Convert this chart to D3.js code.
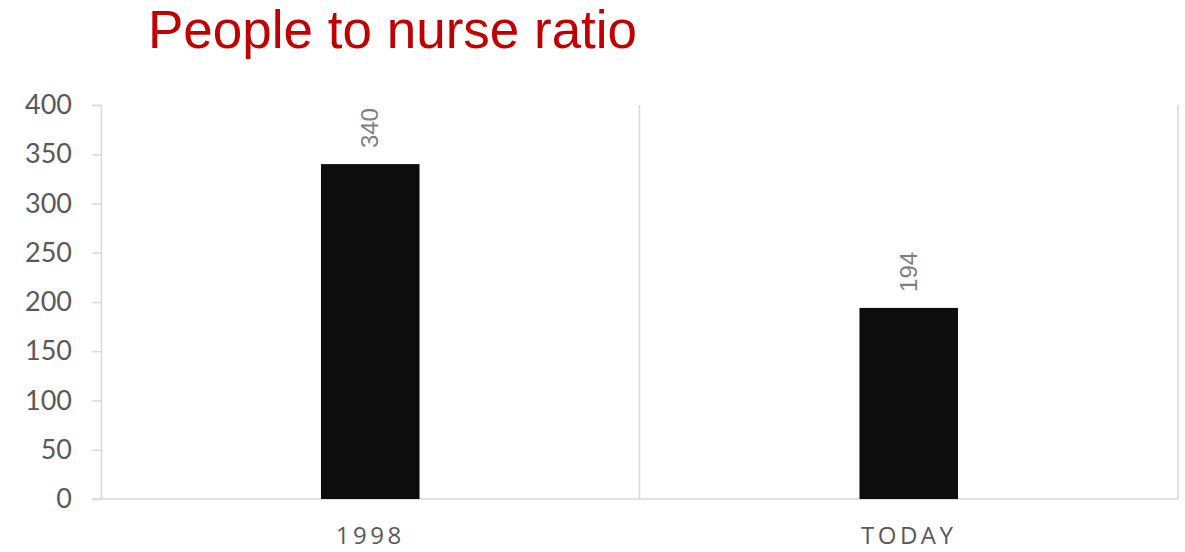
<!DOCTYPE html>
<html><head><meta charset="utf-8">
<script src="https://cdn.jsdelivr.net/npm/d3@7"></script>
<style>body{margin:0;background:#fff;}svg{display:block;}</style>
</head><body>
<script>
const categories = ["1998", "TODAY"];
const values = [340, 194];
const yTicks = [0, 50, 100, 150, 200, 250, 300, 350, 400];
const title = "People to nurse ratio";

const W = 1185, H = 552;
const m = {left: 101, right: 7, top: 105, bottom: 53};
const svg = d3.select("body").append("svg").attr("width", W).attr("height", H);

const x = d3.scaleBand().domain(categories).range([m.left, W - m.right]).paddingInner(0).paddingOuter(0);
const y = d3.scaleLinear().domain([0, 400]).range([H - m.bottom, m.top]);
const grid = "#d9d9d9";

// vertical category separators
const seps = x.domain().map(d => x(d) + x.bandwidth());
svg.selectAll(".sep").data(seps).enter().append("line")
  .attr("x1", d => d).attr("x2", d => d)
  .attr("y1", y(400)).attr("y2", y(0))
  .attr("stroke", grid).attr("stroke-width", 1.5);

// y axis
const yAxis = svg.append("g").attr("transform", `translate(${m.left},0)`)
  .call(d3.axisLeft(y).tickValues(yTicks).tickSize(9).tickPadding(20));
yAxis.select(".domain").attr("stroke", grid).attr("stroke-width", 1.5);
yAxis.selectAll(".tick line").attr("stroke", grid).attr("stroke-width", 1.5);
yAxis.selectAll("text").attr("fill", "#595959").style("font-family", "Lato, 'Open Sans', sans-serif").style("font-size", "27px");

// x axis
const xAxis = svg.append("g").attr("transform", `translate(0,${y(0)})`)
  .call(d3.axisBottom(x).tickSize(0).tickPadding(28));
xAxis.select(".domain").remove();
svg.append("line").attr("x1", m.left - 9).attr("x2", W - m.right)
  .attr("y1", y(0)).attr("y2", y(0)).attr("stroke", grid).attr("stroke-width", 1.5);
xAxis.selectAll("text").attr("fill", "#595959").attr("dy", "0.71em")
  .style("font-family", "'Open Sans', sans-serif").style("font-size", "24px").style("letter-spacing", "3.5px");

// bars
const bw = x.bandwidth() * 0.183;
svg.selectAll(".bar").data(values).enter().append("rect")
  .attr("x", (d, i) => x(categories[i]) + x.bandwidth() / 2 - bw / 2)
  .attr("width", bw)
  .attr("y", d => y(d))
  .attr("height", d => y(0) - y(d))
  .attr("fill", "#0d0d0d");

// data labels
svg.selectAll(".lbl").data(values).enter().append("text")
  .attr("transform", (d, i) => `translate(${x(categories[i]) + x.bandwidth() / 2 + 8},${y(d) - 16}) rotate(-90)`)
  .attr("text-anchor", "start")
  .attr("fill", "#7f7f7f")
  .style("font-family", "'Liberation Sans', Arial, sans-serif").style("font-size", "24px")
  .text(d => d);

// title
svg.append("text").attr("x", 148).attr("y", 48)
  .attr("fill", "#c00000")
  .style("font-family", "'Liberation Sans', Arial, sans-serif").style("font-size", "53px")
  .text(title);
</script>
</body></html>
